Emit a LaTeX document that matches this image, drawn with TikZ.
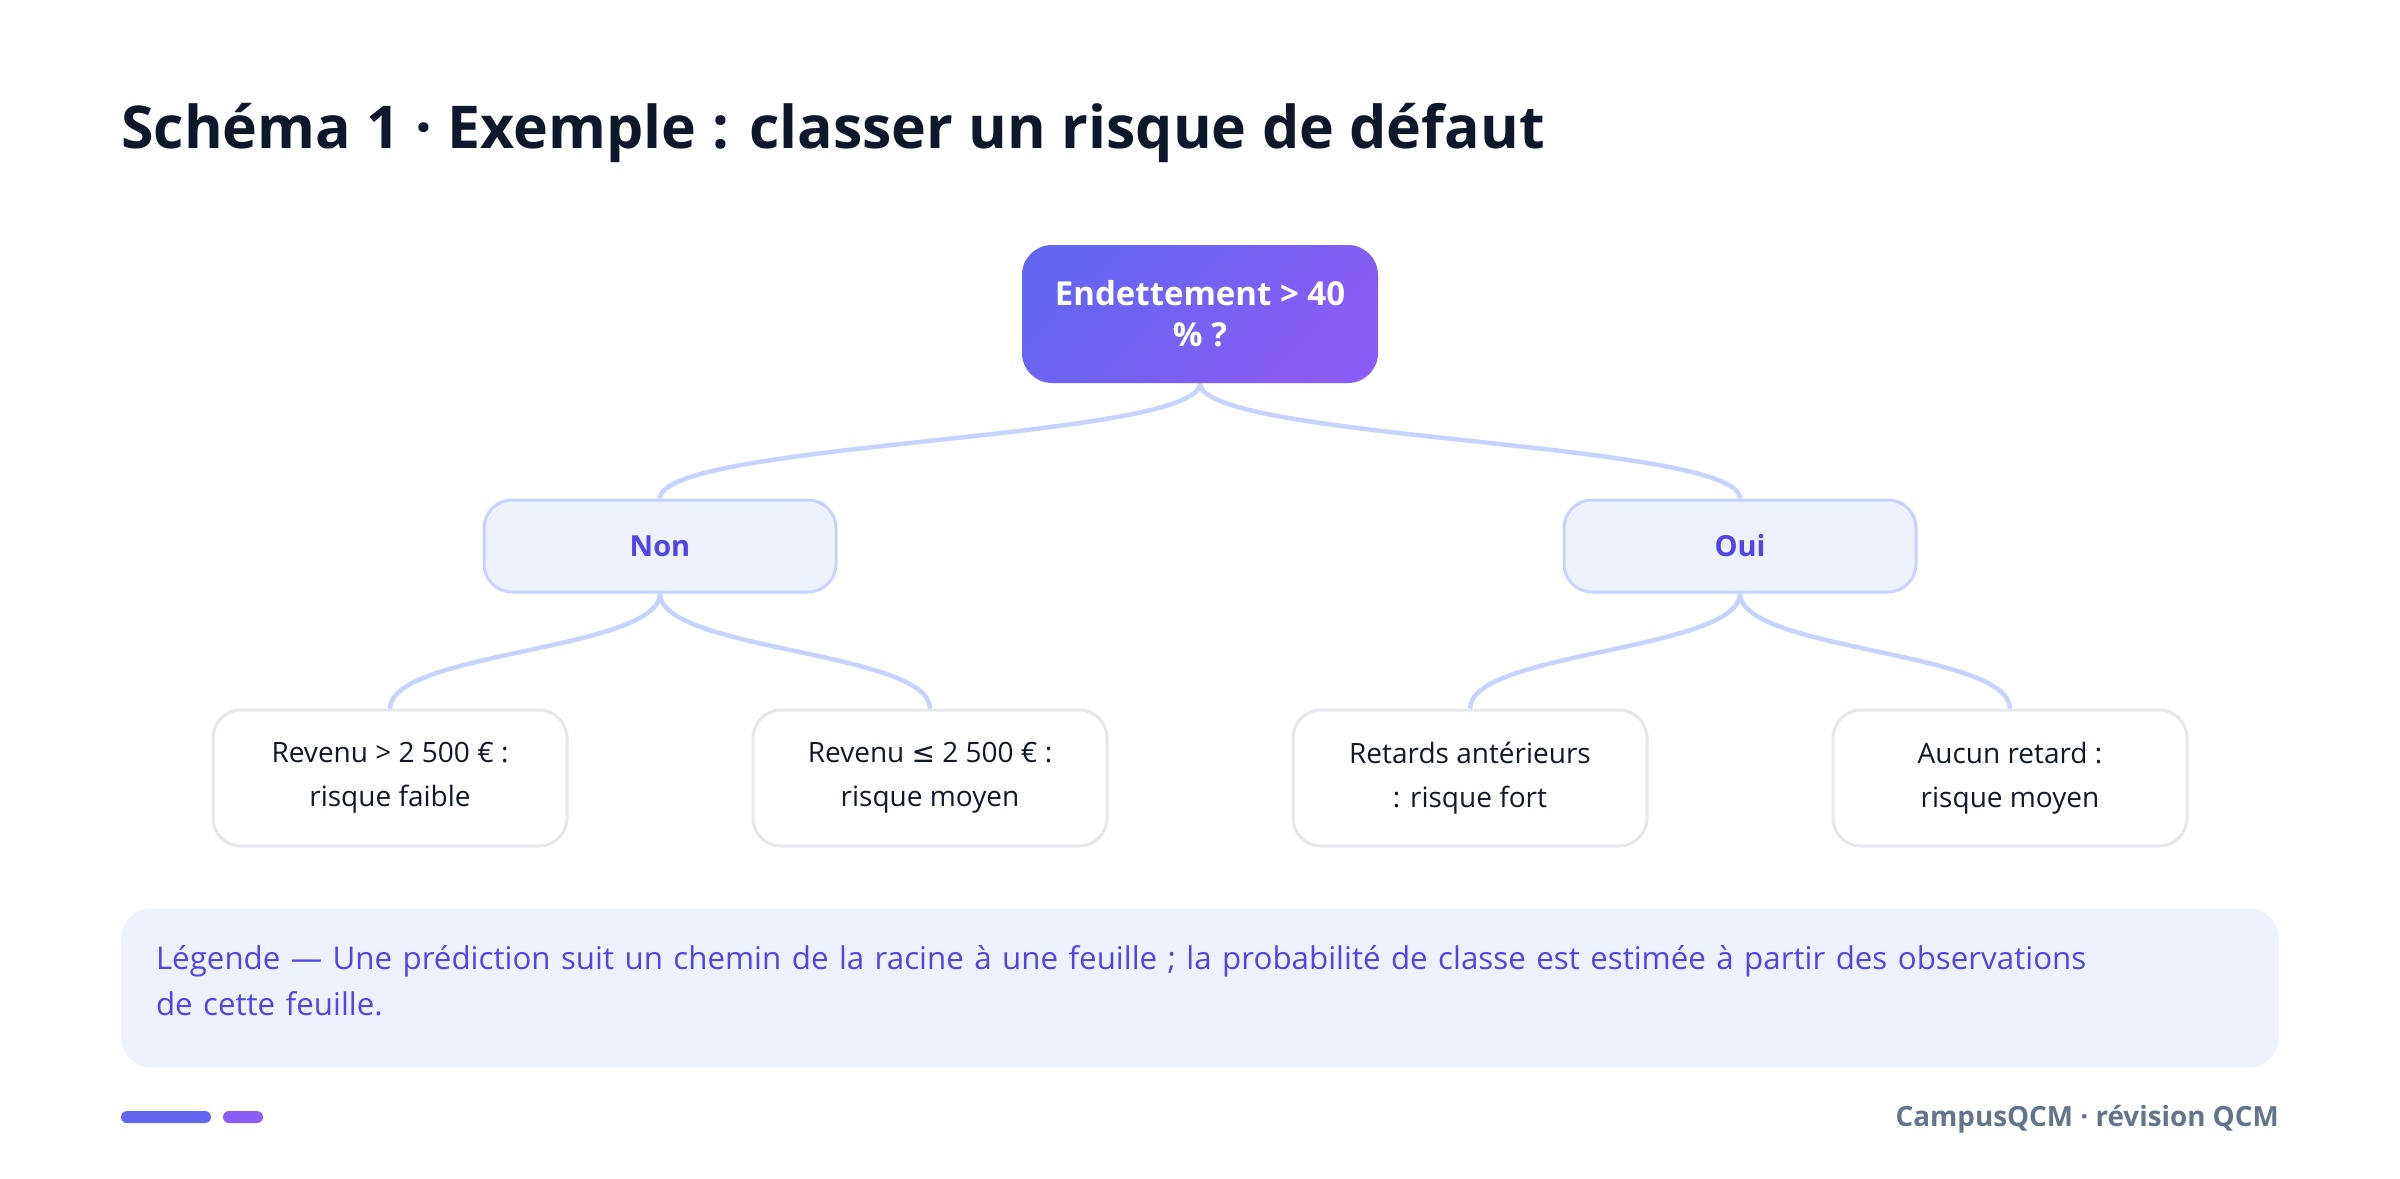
\documentclass[tikz,border=0pt]{standalone}
\usepackage{fontspec}
\setmainfont{Open Sans}
\newfontfamily\symb{DejaVu Sans}
\definecolor{titre}{HTML}{0F172A}
\definecolor{texte}{HTML}{111827}
\definecolor{indigoA}{HTML}{6366F1}
\definecolor{violetA}{HTML}{8B5CF6}
\definecolor{indigoT}{HTML}{4F46E5}
\definecolor{choixfond}{HTML}{EEF2FF}
\definecolor{choixbord}{HTML}{C7D2FE}
\definecolor{feuillebord}{HTML}{E5E7EB}
\definecolor{pied}{HTML}{64748B}
\tikzset{
  racine/.style={rounded corners=30pt, top color=indigoA, bottom color=violetA, shading angle=45,
    minimum width=356pt, minimum height=138pt, text=white, align=center,
    font=\bfseries\fontsize{33}{41}\selectfont},
  choix/.style={rounded corners=28pt, fill=choixfond, draw=choixbord, line width=3pt,
    minimum width=352pt, minimum height=92pt, text=indigoT,
    font=\bfseries\fontsize{29}{40}\selectfont},
  feuille/.style={rounded corners=28pt, fill=white, draw=feuillebord, line width=3pt,
    minimum width=354pt, minimum height=136pt, text=texte, align=center,
    font=\fontsize{28}{44}\selectfont},
  branche/.style={draw=choixbord, line width=4.5pt},
}
\begin{document}
\begin{tikzpicture}[x=1pt,y=-1pt]
\useasboundingbox[fill=white] (0,0) rectangle (2400,1178);
% titre
\node[anchor=base west, inner sep=0, text=titre, font=\bfseries\fontsize{59}{62}\selectfont]
  (titre) at (121,148) {Schéma 1 · Exemple : classer un risque de défaut};
% arbre
\node[racine] (racine) at (1200,314) {Endettement > 40\\\% ?};
\node[choix] (non) at (660,546) {Non};
\node[choix] (oui) at (1740,546) {Oui};
\node[feuille] (f1) at (390,778) {Revenu > 2 500 € :\\risque faible};
\node[feuille] (f2) at (930,778) {Revenu {\symb ≤} 2 500 € :\\risque moyen};
\node[feuille] (f3) at (1470,778) {Retards antérieurs\\: risque fort};
\node[feuille] (f4) at (2010,778) {Aucun retard :\\risque moyen};
\foreach \a/\b in {racine/non, racine/oui, non/f1, non/f2, oui/f3, oui/f4}
  \draw[branche] (\a.south) .. controls +(0,57) and +(0,-57) .. (\b.north);
% legende
\node[rounded corners=30pt, fill=choixfond, minimum width=2158pt, minimum height=159pt,
  text width=2088pt, align=left, text=indigoT, font=\fontsize{31.3}{46}\selectfont]
  (legende) at (1200,988) {Légende — Une prédiction suit un chemin de la racine à une feuille ; la probabilité de classe est estimée à partir des observations\\de cette feuille.\par\vspace{15pt}};
% pied de page
\fill[indigoA, rounded corners=6pt] (121,1111) rectangle (211,1123);
\fill[violetA, rounded corners=6pt] (223,1111) rectangle (263,1123);
\node[anchor=east, inner sep=0, text=pied, font=\bfseries\fontsize{27.8}{30}\selectfont]
  (signature) at (2279,1119) {CampusQCM · révision QCM};
\end{tikzpicture}
\end{document}
